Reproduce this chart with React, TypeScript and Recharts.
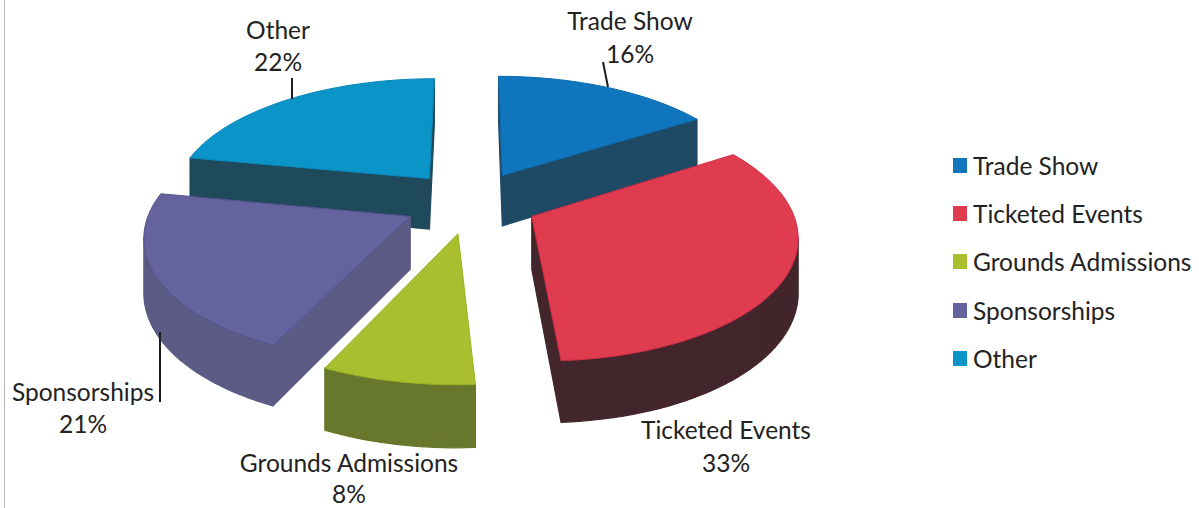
import { PieChart, Pie, Legend } from "recharts";

const categories = ["Trade Show", "Ticketed Events", "Grounds Admissions", "Sponsorships", "Other"];
const shares = [16, 33, 8, 21, 22];

const topColors = ["#0f76bd", "#e03c50", "#a9bf30", "#64639d", "#0a94c8"];
const edgeColors = ["#0e6cae", "#cf2a44", "#98b226", "#55538f", "#0a88bb"];
const wallColors = ["#1f4a66", "#42262b", "#67772b", "#5c5b85", "#1f4a5c"];

// label anchor and baselines per category, leader line where there is one
const labelSpots = [
  { x: 630, y1: 30, y2: 63, leader: [603, 62, 608, 87] },
  { x: 726, y1: 439, y2: 472, leader: null },
  { x: 349, y1: 472, y2: 503, leader: null },
  { x: 83, y1: 401, y2: 433, leader: [160, 332, 160, 402] },
  { x: 278, y1: 39, y2: 71, leader: [292, 78, 292, 99] },
];

const FONT = "Lato, 'Open Sans', sans-serif";
const FONT_SIZE = 24.5;
const RADIUS = 258;
const TILT = 0.465; // vertical squash of the pie plane
const PERSPECTIVE = 0.14; // how much nearer points grow
const DEPTH = 52; // wall height in px
const EXPLODE = 0.26; // slice offset as a share of the radius
const RAD = Math.PI / 180;

// Pie draws in data order, so "Other" goes first: Sponsorships must sit on top of its wall.
const drawOrder = [4, 0, 1, 2, 3];
const slices = drawOrder.map((i) => ({
  name: categories[i],
  value: shares[i],
  fill: topColors[i],
  idx: i,
}));
const total = shares.reduce((a, b) => a + b, 0);
const firstAngle = 90 + (shares[4] / total) * 360;

function Slice3D(props: any) {
  const { cx, cy, startAngle, endAngle, fill, payload } = props;
  const idx = payload?.idx ?? props.idx;
  const mid = ((startAngle + endAngle) / 2) * RAD;

  // polar position on the pie plane -> screen, z=1 is the bottom of the wall
  const project = (deg: number, r: number, z: number) => {
    const u = EXPLODE * Math.cos(mid) + r * Math.cos(deg * RAD);
    const v = -EXPLODE * Math.sin(mid) - r * Math.sin(deg * RAD);
    const w = 1 - PERSPECTIVE * v;
    return [cx + (RADIUS * u) / w, cy + (RADIUS * TILT * v) / w + (z * DEPTH) / w];
  };

  const steps = Math.max(4, Math.ceil(Math.abs(startAngle - endAngle) / 2));
  const angles = Array.from({ length: steps + 1 }, (_, i) => startAngle + ((endAngle - startAngle) * i) / steps);
  // clockwise loop around the wedge; each entry is [deg, r]
  const loop: [number, number][] = [[0, 0], ...angles.map((a) => [a, 1] as [number, number])];

  const walls: string[] = [];
  loop.forEach(([deg, r], i) => {
    const [nd, nr] = loop[(i + 1) % loop.length];
    const a = project(deg, r, 0);
    const b = project(nd, nr, 0);
    // edges running right to left on a clockwise loop face the viewer
    if (b[0] < a[0]) {
      const c = project(nd, nr, 1);
      const d = project(deg, r, 1);
      walls.push(`M${a[0]},${a[1]}L${b[0]},${b[1]}L${c[0]},${c[1]}L${d[0]},${d[1]}Z`);
    }
  });
  const top = loop.map(([deg, r], i) => {
    const p = project(deg, r, 0);
    return `${i ? "L" : "M"}${p[0]},${p[1]}`;
  }).join("") + "Z";

  return (
    <g>
      <path d={walls.join("")} fill={wallColors[idx]} stroke={wallColors[idx]} strokeWidth={1.2} />
      <path d={top} fill={fill} stroke={edgeColors[idx]} strokeWidth={1} strokeLinejoin="round" />
    </g>
  );
}

function SliceLabel(props: any) {
  const idx = props.payload?.idx ?? props.idx;
  const spot = labelSpots[idx];
  const style = { fontFamily: FONT, fontSize: FONT_SIZE, fill: "#222" };
  return (
    <g>
      {spot.leader && (
        <line x1={spot.leader[0]} y1={spot.leader[1]} x2={spot.leader[2]} y2={spot.leader[3]} stroke="#1c1c1c" strokeWidth={2} />
      )}
      <text x={spot.x} y={spot.y1} textAnchor="middle" style={style}>{categories[idx]}</text>
      <text x={spot.x} y={spot.y2} textAnchor="middle" style={style}>{shares[idx]}%</text>
    </g>
  );
}

function LegendList(props: any) {
  const items = [...(props.payload ?? [])].sort(
    (a: any, b: any) => categories.indexOf(a.value) - categories.indexOf(b.value),
  );
  return (
    <div style={{ fontFamily: FONT, fontSize: FONT_SIZE, color: "#222" }}>
      {items.map((item: any) => (
        <div key={item.value} style={{ display: "flex", alignItems: "center", height: 48.4, whiteSpace: "nowrap" }}>
          <span style={{ width: 14, height: 15, background: item.color, marginRight: 6, flex: "none" }} />
          {item.value}
        </div>
      ))}
    </div>
  );
}

export default function App() {
  return (
    <div style={{ position: "absolute", left: 0, top: 0, width: 1199, height: 508, background: "#fff", overflow: "hidden" }}>
      <div style={{ position: "absolute", left: 4, top: 0, width: 1, height: 508, background: "#b5b5b5" }} />
      <PieChart width={1199} height={508} margin={{ top: 0, right: 0, bottom: 0, left: 0 }}>
        <Pie
          data={slices}
          dataKey="value"
          nameKey="name"
          cx={471}
          cy={202}
          outerRadius={RADIUS}
          startAngle={firstAngle}
          endAngle={firstAngle - 360}
          shape={Slice3D}
          label={SliceLabel}
          labelLine={false}
          stroke="none"
          isAnimationActive={false}
        />
        <Legend
          layout="vertical"
          align="right"
          verticalAlign="top"
          wrapperStyle={{ left: 953, right: "auto", top: 141, width: 246 }}
          content={LegendList}
        />
      </PieChart>
    </div>
  );
}
